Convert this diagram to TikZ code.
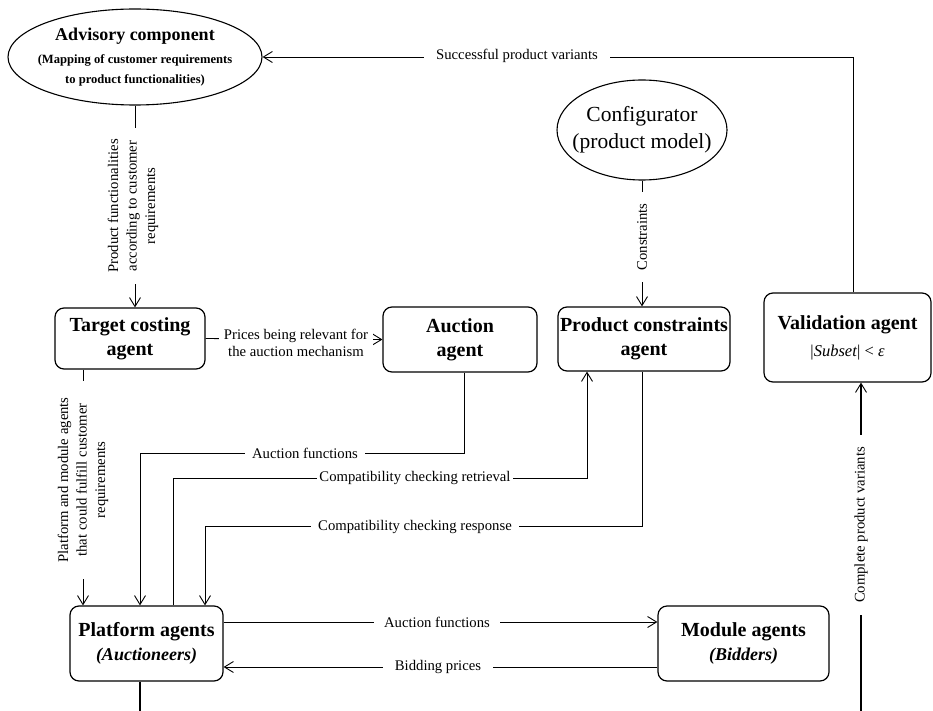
\documentclass[tikz,border=0pt]{standalone}
\usepackage{fontspec}
\setmainfont{Liberation Serif}
\usetikzlibrary{arrows.meta,shapes.geometric,calc}
\begin{document}
\begin{tikzpicture}[x=1pt,y=-1pt,
  conn/.style={line width=0.9pt,-{Straight Barb[length=9pt,width=11pt,line width=0.9pt]}},
  plainline/.style={line width=0.9pt},
  agentbox/.style={draw,line width=1.2pt,rounded corners=9pt,inner sep=0pt,align=center,
    font=\fontsize{20}{24}\selectfont\bfseries},
  oval/.style={draw,ellipse,line width=1.1pt,inner xsep=-60pt,inner ysep=-30pt,align=center},
  lbl/.style={fill=white,inner ysep=1pt,inner xsep=6pt,align=center,
    font=\fontsize{14.7}{17.5}\selectfont},
  vlbl/.style={lbl,rotate=90,font=\fontsize{14.7}{18.5}\selectfont},
]
\useasboundingbox (0,0) rectangle (933,711);

% ---------- nodes ----------
\node[oval,minimum width=254pt,minimum height=96pt,
  font=\bfseries\fontsize{12.6}{20}\selectfont] (adv) at (135,57)
  {{\fontsize{18}{20}\selectfont\bfseries Advisory component}\\[3pt]
   (Mapping of customer requirements\\ to product functionalities)};
\node[oval,minimum width=170pt,minimum height=100pt,
  font=\fontsize{21.5}{27}\selectfont] (conf) at (642,130)
  {Configurator\\(product model)};

\node[agentbox,minimum width=150pt,minimum height=61pt] (tc) at (130,338.5)
  {Target costing\\agent};
\node[agentbox,minimum width=154pt,minimum height=65pt] (auc) at (460,339.5)
  {Auction\\agent};
\node[agentbox,minimum width=172pt,minimum height=64pt] (pc) at (644,339)
  {Product constraints\\agent};
\node[agentbox,minimum width=167pt,minimum height=89pt] (val) at (847.5,337.5)
  {Validation agent\\[3pt]{\mdseries\fontsize{16.5}{19}\selectfont |\textit{Subset}| < \textit{ε}}};
\node[agentbox,minimum width=153pt,minimum height=75pt] (pa) at (146.5,643.5)
  {Platform agents\\{\fontsize{18}{20}\selectfont\bfseries\itshape (Auctioneers)}};
\node[agentbox,minimum width=171pt,minimum height=75pt] (ma) at (743.5,643.5)
  {Module agents\\{\fontsize{18}{20}\selectfont\bfseries\itshape (Bidders)}};

\coordinate (cpvstart) at (861,711);
\coordinate (paend) at (140,711);

% ---------- connectors ----------
\draw[conn] (adv.south) -- (adv.south |- tc.north);
\draw[conn] (conf.south) -- (conf.south |- pc.north);
\draw[conn] (tc.east) -- (auc.west);
\draw[conn] ($(val.north)+(5.5,0)$) |- (adv.east);
\draw[conn] ($(auc.south)+(4,0)$) -- ++(0,81) -| ($(pa.north)+(-6.5,0)$);
\draw[conn] ($(pa.north)+(26.5,0)$) |- ($(pc.south)+(-57,107)$) -- ($(pc.south)+(-57,0)$);
\draw[conn] ($(pc.south)+(-2,0)$) |- ($(pa.north)+(58.5,-79)$) -- ($(pa.north)+(58.5,0)$);
\draw[conn] ($(pa.east)+(0,-21.5)$) -- ($(ma.west)+(0,-21.5)$);
\draw[conn] ($(ma.west)+(0,23.5)$) -- ($(pa.east)+(0,23.5)$);
\draw[conn] ($(tc.south)+(-47,0)$) -- ($(pa.north)+(-63.5,0)$);
\draw[conn,line width=1.6pt] (cpvstart) -- ($(val.south)+(13.5,0)$);
\draw[plainline,line width=1.4pt] ($(pa.south)+(-6.5,0)$) -- (paend);

% ---------- labels ----------
\node[lbl,inner xsep=12pt] (lsucc) at (517,56) {Successful product variants};
\node[lbl,inner xsep=5pt] (lprice) at (296,343) {Prices being relevant for\\the auction mechanism};
\node[lbl,inner xsep=7pt] (lauc1) at (305,453) {Auction functions};
\node[lbl,inner xsep=2pt] (lret) at (415,478) {Compatibility checking retrieval};
\node[lbl,inner xsep=7pt] (lresp) at (415,527) {Compatibility checking response};
\node[lbl,inner xsep=10pt] (lauc2) at (437,622) {Auction functions};
\node[lbl,inner xsep=12pt] (lbid) at (438,667) {Bidding prices};
\node[vlbl,inner xsep=11pt] (lprod) at (133,206) {Product functionalities\\according to customer\\requirements};
\node[vlbl,inner xsep=12pt] (lcons) at (642,237) {Constraints};
\node[vlbl,inner xsep=16pt] (lplat) at (83,480) {Platform and module agents\\that could fulfill customer\\requirements};
\node[vlbl,inner xsep=12pt] (lcomp) at (861,525) {Complete product variants};
\end{tikzpicture}
\end{document}
